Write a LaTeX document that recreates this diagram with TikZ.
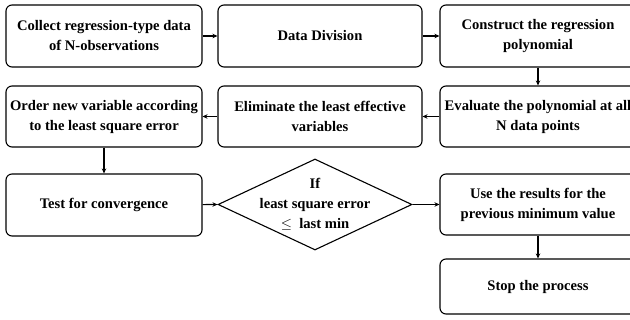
\documentclass[tikz,border=0pt]{standalone}
\usepackage{fontspec}
\setmainfont{Liberation Serif}
\usetikzlibrary{shapes.geometric,arrows.meta}
\tikzset{
  box/.style={draw, line width=1.1pt, rounded corners=6pt, align=center, inner sep=2pt,
    font=\fontsize{14.6}{20}\selectfont\bfseries},
  txt/.style={align=center, inner sep=0pt, font=\fontsize{14.6}{20}\selectfont\bfseries},
  arr/.style={line width=1.1pt, -{Stealth[length=5pt,width=4.5pt]}},
}
\begin{document}
\begin{tikzpicture}[x=1pt,y=-1pt]
\useasboundingbox (0,0) rectangle (630,320);
\clip (0,0) rectangle (630,320);
\fill[white] (0,0) rectangle (630,320);
% row 1
\node[box, minimum width=196pt, minimum height=62pt] (collect) at (104,36) {Collect regression-type data\\of N-observations};
\node[box, minimum width=204pt, minimum height=62pt] (division) at (320,36) {Data Division};
\node[box, minimum width=196pt, minimum height=62pt] (construct) at (538,36) {Construct the regression\\polynomial};
% row 2
\node[box, minimum width=196pt, minimum height=61pt] (order) at (104,116.5) {Order new variable according\\to the least square error};
\node[box, minimum width=204pt, minimum height=61pt] (elim) at (320,116.5) {Eliminate the least effective\\variables};
\node[box, minimum width=196pt, minimum height=61pt] (eval) at (538,116.5) {Evaluate the polynomial at all\\N data points};
% row 3
\node[box, minimum width=196pt, minimum height=62pt] (test) at (104,205) {Test for convergence};
\node[draw, diamond, line width=1.1pt, minimum width=194pt, minimum height=91pt, inner sep=0pt] (dec) at (315,204.5) {};
\node[txt] (dectxt) at (dec.center) {If\\least square error\\$\leq$\ \ last min};
\node[box, minimum width=196pt, minimum height=61pt] (use) at (538,204.5) {Use the results for the\\previous minimum value};
\node[box, minimum width=196pt, minimum height=55pt] (stop) at (538,286.5) {Stop the process};
% connectors
\draw[arr] (collect) -- (division);
\draw[arr] (division) -- (construct);
\draw[arr] (construct) -- (eval);
\draw[arr] (eval) -- (elim);
\draw[arr] (elim) -- (order);
\draw[arr] (order) -- (test);
\draw[arr] (test) -- (dec.west);
\draw[arr] (dec.east) -- (use.west);
\draw[arr] (use) -- (stop);
\end{tikzpicture}
\end{document}
